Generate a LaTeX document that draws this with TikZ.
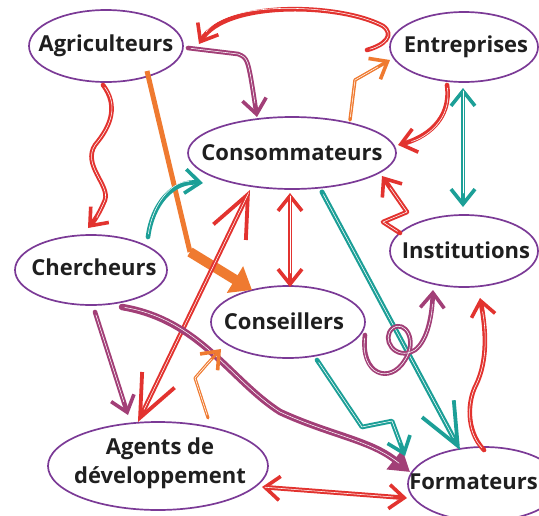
\documentclass[tikz,border=0pt]{standalone}
\usepackage{fontspec}
\setmainfont{Open Sans}
\usetikzlibrary{shapes.geometric,arrows.meta}
\definecolor{pu}{HTML}{7B3A96}
\definecolor{rd}{HTML}{E2332F}
\definecolor{orng}{HTML}{EF7A30}
\definecolor{tl}{HTML}{1C9F97}
\definecolor{pl}{HTML}{A23F77}
\tikzset{
 ell/.style={ellipse, draw=pu, line width=1.7pt, inner sep=0pt},
 txt/.style={font=\bfseries\fontsize{22}{29}\selectfont, text=black!88, inner sep=0pt, align=center},
 sk/.style={line width=4.6pt, line cap=round, line join=round, postaction={draw=white, line width=0.55pt, arrows=-, shorten >=14pt, shorten <=3pt}},
 hd/.tip={Straight Barb[length=15pt, width=24pt, line width=3.6pt]},
 bighd/.tip={Straight Barb[length=42pt, width=36pt, line width=3.8pt]},
}
\begin{document}
\begin{tikzpicture}[x=1pt,y=-1pt]
\useasboundingbox (0,0) rectangle (539,515);
\clip (0,0) rectangle (539,515);
% nodes
\node[ell, minimum width=154pt, minimum height=72pt] (agr) at (106,46) {};
\node[ell, minimum width=148pt, minimum height=70pt] (ent) at (464,47) {};
\node[ell, minimum width=208pt, minimum height=72pt] (con) at (292,153) {};
\node[ell, minimum width=152pt, minimum height=70pt] (che) at (91,270) {};
\node[ell, minimum width=148pt, minimum height=72pt] (ins) at (464,251) {};
\node[ell, minimum width=154pt, minimum height=72pt] (cns) at (288,322) {};
\node[ell, minimum width=220pt, minimum height=88pt] (agd) at (158,466) {};
\node[ell, minimum width=152pt, minimum height=74pt] (frm) at (484,484) {};
\node[txt] (agrt) at (106,46) {Agriculteurs};
\node[txt] (entt) at (466,47) {Entreprises};
\node[txt] (cont) at (292,153) {Consommateurs};
\node[txt] (chet) at (94,267) {Chercheurs};
\node[txt] (inst) at (466,250) {Institutions};
\node[txt] (cnst) at (284,321) {Conseillers};
\node[txt] (agdt) at (160,463) {Agents de\\développement};
\node[txt, anchor=east] (frmt) at (538,482) {Formateurs};
% endpoints
\coordinate (p1a) at (367,50); \coordinate (p1b) at (199,44);
\coordinate (p2a) at (188,48); \coordinate (p2b) at (257,117);
\coordinate (p3a) at (147,71); \coordinate (p3m) at (190,252); \coordinate (p3b) at (252,290);
\coordinate (p4a) at (103,85); \coordinate (p4b) at (88,228);
\coordinate (p5a) at (350,120); \coordinate (p5b) at (390,60);
\coordinate (p6a) at (447,85); \coordinate (p6b) at (398,145);
\coordinate (p7a) at (463,88); \coordinate (p7b) at (463,207);
\coordinate (p8a) at (400,233); \coordinate (p8b) at (382,176);
\coordinate (p9a) at (322,192); \coordinate (p9b) at (460,450);
\coordinate (p10a) at (290,193); \coordinate (p10b) at (290,287);
\coordinate (p11a) at (250,190); \coordinate (p11b) at (138,422);
\coordinate (p12a) at (148,237); \coordinate (p12b) at (203,183);
\coordinate (p13a) at (95,312); \coordinate (p13b) at (128,415);
\coordinate (p14a) at (122,307); \coordinate (p14b) at (410,472);
\coordinate (p15a) at (208,418); \coordinate (p15b) at (221,349);
\coordinate (p16a) at (317,360); \coordinate (p16b) at (405,456);
\coordinate (p17a) at (365,335); \coordinate (p17b) at (433,290);
\coordinate (p18a) at (484,450); \coordinate (p18b) at (480,298);
\coordinate (p19a) at (262,487); \coordinate (p19b) at (407,498);
% connectors
\draw[sk, rd, -hd] (p1a) .. controls (385,45) and (395,35) .. (383,26) .. controls (340,3) and (225,0) .. (p1b);
\draw[sk, pl, -hd] (p2a) -- (238,54) .. controls (248,58) .. (p2b);
\draw[orng, line width=5pt] (p3a) -- (p3m);
\draw[orng, line width=10pt, line join=round, -{Triangle[length=20pt,width=30pt]}] (p3m) -- (p3b);
\draw[sk, rd, -hd] (p4a) .. controls (118,105) and (112,125) .. (95,145) .. controls (82,165) and (110,185) .. (105,200) .. controls (100,212) and (95,220) .. (p4b);
\draw[sk, orng, line width=3.4pt, -hd] (p5a) -- (355,80) -- (p5b);
\draw[sk, rd, -hd] (p6a) .. controls (452,120) and (425,138) .. (p6b);
\draw[sk, tl, hd-hd] (p7a) -- (p7b);
\draw[sk, rd, -hd] (p8a) -- (383,222) -- (407,212) -- (p8b);
\draw[sk, tl, line width=5pt, -bighd] (p9a) -- (p9b);
\draw[sk, rd, hd-hd] (p10a) -- (p10b);
\draw[sk, rd, bighd-bighd] (p11a) -- (p11b);
\draw[sk, tl, -hd] (p12a) .. controls (152,205) and (172,180) .. (p12b);
\draw[sk, pl, -hd] (p13a) -- (p13b);
\draw[sk, pl, line width=6.5pt, -{Triangle[length=20pt,width=24pt]}] (p14a) .. controls (200,320) and (230,380) .. (280,412) .. controls (330,435) and (370,440) .. (p14b);
\draw[sk, orng, line width=3pt, -hd] (p15a) -- (195,378) -- (208,363) -- (p15b);
\draw[sk, tl, -hd] (p16a) -- (362,427) -- (392,421) -- (p16b);
\draw[sk, pl, -hd] (p17a) .. controls (360,375) and (390,385) .. (405,360) .. controls (418,340) and (405,320) .. (393,328) .. controls (380,338) and (395,362) .. (415,350) .. controls (428,340) and (432,315) .. (p17b);
\draw[sk, rd, -hd] (p18a) .. controls (465,430) and (468,400) .. (476,385) .. controls (488,360) and (486,330) .. (p18b);
\draw[sk, rd, hd-hd] (p19a) -- (p19b);
\end{tikzpicture}
\end{document}
